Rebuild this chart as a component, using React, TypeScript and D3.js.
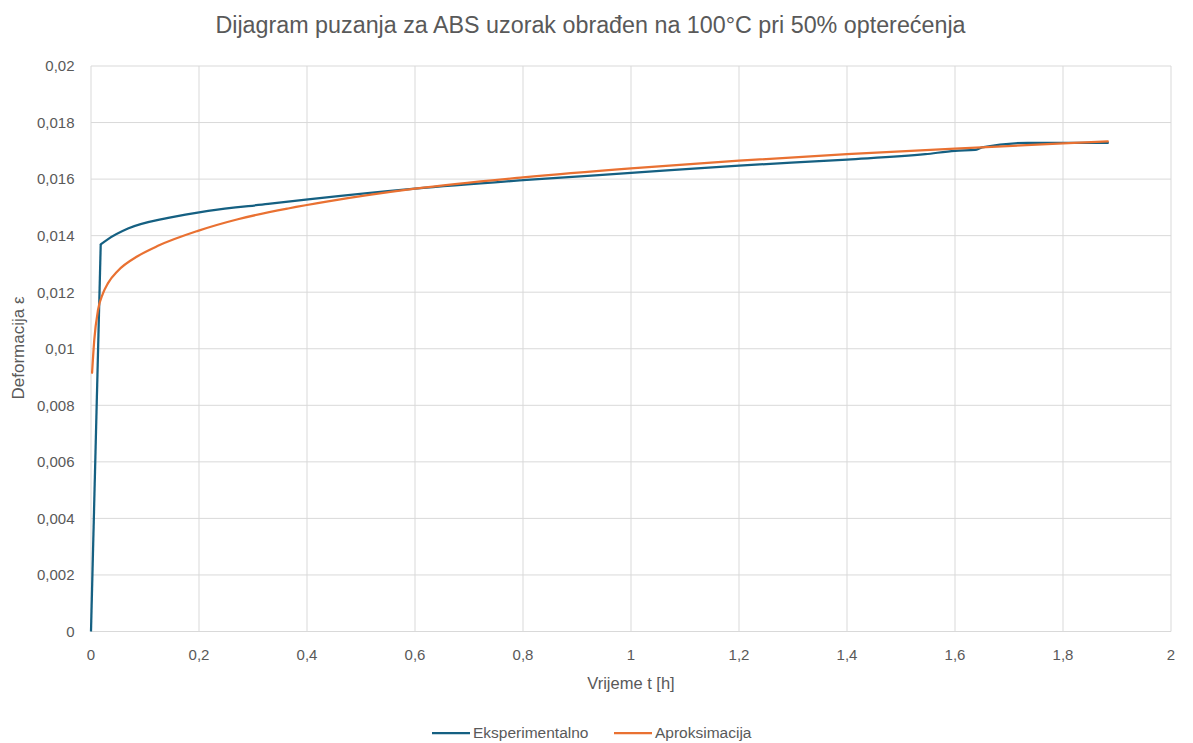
import React from "react";
import * as d3 from "d3";

const title = "Dijagram puzanja za ABS uzorak obrađen na 100°C pri 50% opterećenja";
const xTitle = "Vrijeme t [h]";
const yTitle = "Deformacija ε";
const seriesNames = ["Eksperimentalno", "Aproksimacija"];
const seriesColors = ["#156082", "#E97132"];

const xTicks = [0, 0.2, 0.4, 0.6, 0.8, 1, 1.2, 1.4, 1.6, 1.8, 2];
const yTicks = [0, 0.002, 0.004, 0.006, 0.008, 0.01, 0.012, 0.014, 0.016, 0.018, 0.02];

const expT = [0, 0.018, 0.031, 0.0685, 0.143, 0.217, 0.328, 0.402, 0.6, 0.8, 1.0, 1.2, 1.4, 1.545, 1.6, 1.637, 1.65, 1.735, 1.883];
const expE = [0, 0.01369, 0.01387, 0.01425, 0.01463, 0.01488, 0.01512, 0.01528, 0.01566, 0.01596, 0.01622, 0.01648, 0.01669, 0.01688, 0.017, 0.01703, 0.01712, 0.01728, 0.01728];

const aprT = [0.002, 0.006, 0.013, 0.022, 0.0315, 0.05, 0.087, 0.124, 0.198, 0.272, 0.365, 0.439, 0.6, 0.8, 1.0, 1.2, 1.4, 1.6, 1.8, 1.883];
const aprE = [0.00915, 0.0103, 0.01137, 0.01195, 0.01232, 0.01276, 0.01328, 0.01364, 0.01417, 0.01458, 0.01496, 0.01521, 0.01566, 0.01606, 0.01638, 0.01665, 0.01688, 0.01708, 0.01726, 0.01733];

const W = 1193;
const H = 743;
const font = "'Liberation Sans', Arial, sans-serif";
const textColor = "#595959";
const gridColor = "#d9d9d9";

const fmt = (v: number) => String(+v.toFixed(4)).replace(".", ",");

export default function App() {
  const x = d3.scaleLinear().domain([0, 2]).range([91, 1171]);
  const y = d3.scaleLinear().domain([0, 0.02]).range([631.5, 66]);
  const smooth = d3
    .line<[number, number]>()
    .x((d) => x(d[0]))
    .y((d) => y(d[1]))
    .curve(d3.curveMonotoneX);
  const straight = d3
    .line<[number, number]>()
    .x((d) => x(d[0]))
    .y((d) => y(d[1]))
    .curve(d3.curveLinear);
  const expData: [number, number][] = expT.map((t, i) => [t, expE[i]]);
  const aprData: [number, number][] = aprT.map((t, i) => [t, aprE[i]]);

  const legendY = 733;
  const legend = [
    { name: seriesNames[0], color: seriesColors[0], x0: 432 },
    { name: seriesNames[1], color: seriesColors[1], x0: 614 },
  ];

  return (
    <svg width={W} height={H} style={{ position: "absolute", left: 0, top: 0, background: "#fff" }} fontFamily={font}>
      <rect x={0} y={0} width={W} height={H} fill="#fff" />
      <text x={590.5} y={33} textAnchor="middle" fontSize={23.3} fill={textColor}>
        {title}
      </text>
      {yTicks.map((v) => (
        <g key={"y" + v}>
          <line x1={91} x2={1171} y1={y(v)} y2={y(v)} stroke={gridColor} strokeWidth={1} />
          <text x={74.5} y={y(v) + 5.3} textAnchor="end" fontSize={15} fill={textColor}>
            {fmt(v)}
          </text>
        </g>
      ))}
      {xTicks.map((v) => (
        <g key={"x" + v}>
          <line x1={x(v)} x2={x(v)} y1={66} y2={631.5} stroke={gridColor} strokeWidth={1} />
          <text x={x(v)} y={660} textAnchor="middle" fontSize={15} fill={textColor}>
            {fmt(v)}
          </text>
        </g>
      ))}
      <text x={631} y={689} textAnchor="middle" fontSize={16.5} fill={textColor}>
        {xTitle}
      </text>
      <text
        transform={`translate(24, 348) rotate(-90)`}
        textAnchor="middle"
        fontSize={17}
        fill={textColor}
      >
        {yTitle}
      </text>
      <path d={straight(expData.slice(0, 2)) || ""} fill="none" stroke={seriesColors[0]} strokeWidth={2.25} strokeLinejoin="round" />
      <path d={smooth(expData.slice(1)) || ""} fill="none" stroke={seriesColors[0]} strokeWidth={2.25} strokeLinejoin="round" strokeLinecap="round" />
      <path d={smooth(aprData) || ""} fill="none" stroke={seriesColors[1]} strokeWidth={2.25} strokeLinejoin="round" strokeLinecap="round" />
      {legend.map((l) => (
        <g key={l.name}>
          <line x1={l.x0} x2={l.x0 + 38} y1={legendY} y2={legendY} stroke={l.color} strokeWidth={2.25} />
          <text x={l.x0 + 41} y={legendY + 5.3} fontSize={15.5} fill={textColor}>
            {l.name}
          </text>
        </g>
      ))}
    </svg>
  );
}
